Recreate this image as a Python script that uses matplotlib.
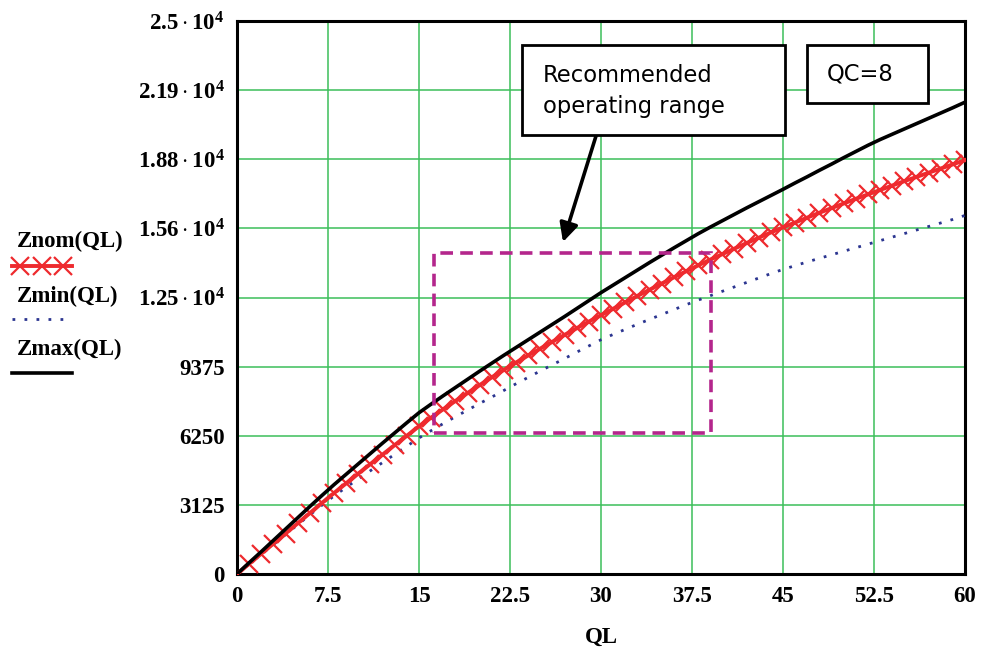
import matplotlib
matplotlib.use("Agg")
import matplotlib.pyplot as plt
from matplotlib.patches import Rectangle
from matplotlib.lines import Line2D

# ---------------- data ----------------
QL = list(range(0, 61))
Znom = [0, 460, 920, 1370, 1830, 2290, 2750, 3210, 3660, 4100,
        4540, 4970, 5400, 5830, 6250, 6680, 7070, 7450, 7820, 8180,
        8540, 8890, 9230, 9560, 9880, 10190, 10500, 10810, 11110, 11410,
        11700, 11990, 12280, 12570, 12850, 13130, 13410, 13680, 13950, 14210,
        14460, 14710, 14960, 15200, 15440, 15670, 15890, 16110, 16330, 16540,
        16750, 16960, 17160, 17360, 17560, 17760, 17950, 18140, 18330, 18520,
        18710]
Zmin = [0, 445, 890, 1330, 1780, 2230, 2670, 3110, 3530, 3920,
        4300, 4670, 5040, 5410, 5780, 6150, 6480, 6800, 7110, 7410,
        7710, 8000, 8300, 8600, 8890, 9180, 9460, 9740, 10030, 10310,
        10590, 10830, 11060, 11290, 11510, 11730, 11950, 12170, 12380, 12580,
        12780, 12980, 13180, 13380, 13580, 13770, 13940, 14110, 14270, 14430,
        14590, 14750, 14910, 15070, 15230, 15390, 15550, 15710, 15870, 16030,
        16210]
Zmax = [0, 510, 1010, 1520, 2030, 2540, 3050, 3550, 4040, 4510,
        4980, 5450, 5920, 6380, 6840, 7290, 7680, 8060, 8430, 8800,
        9170, 9530, 9890, 10240, 10590, 10940, 11290, 11640, 12000, 12360,
        12720, 13060, 13400, 13740, 14080, 14410, 14740, 15060, 15380, 15680,
        15970, 16260, 16550, 16830, 17110, 17390, 17680, 17960, 18250, 18530,
        18820, 19100, 19380, 19640, 19880, 20120, 20360, 20600, 20840, 21080,
        21330]

xticks = [0, 7.5, 15, 22.5, 30, 37.5, 45, 52.5, 60]
xticklabels = ["0", "7.5", "15", "22.5", "30", "37.5", "45", "52.5", "60"]
yticks = [0, 3125, 6250, 9375, 12500, 15625, 18750, 21875, 25000]
yticklabels = ["0", "3125", "6250", "9375",
               r"$1.25\cdot10^{4}$", r"$1.56\cdot10^{4}$", r"$1.88\cdot10^{4}$",
               r"$2.19\cdot10^{4}$", r"$2.5\cdot10^{4}$"]
legend_names = ["Znom(QL)", "Zmin(QL)", "Zmax(QL)"]
range_box = (16.2, 6390, 39.1, 14490)   # QL from, Z from, QL to, Z to
note_text = "Recommended\noperating range"
qc_text = "QC=8"

# ---------------- style ----------------
plt.rcParams['mathtext.fontset'] = 'custom'
plt.rcParams['mathtext.rm'] = 'Liberation Serif:bold'
plt.rcParams['mathtext.it'] = 'Liberation Serif:bold'
plt.rcParams['mathtext.bf'] = 'Liberation Serif:bold'

RED = '#ee2a2e'
BLUE = '#2b3590'
MAG = '#b4268c'
GRID = '#3cbf5a'
DOTS = (0, (1.0, 3.32))
serif = dict(family='Liberation Serif', weight='bold', size=16.5)

W, H = 984, 650
fig = plt.figure(figsize=(W / 100, H / 100), dpi=100)
L, R, B, T = 237, 965, 574, 21
ax = fig.add_axes([L / W, 1 - B / H, (R - L) / W, (B - T) / H])

ax.plot(QL, Zmin, color=BLUE, lw=2.0, ls=DOTS, zorder=3)
ax.plot(QL, Znom, color=RED, lw=2.8, marker='x', markersize=12.5,
        markeredgewidth=1.6, zorder=4)
ax.plot(QL, Zmax, color='black', lw=2.6, zorder=5)

ax.set_xlim(0, 60)
ax.set_ylim(0, 25000)
ax.set_xticks(xticks)
ax.set_xticklabels(xticklabels, fontdict=serif)
ax.set_yticks(yticks)
ax.set_yticklabels(yticklabels, fontdict=serif)
ax.tick_params(length=0, pad=9)
ax.grid(True, color=GRID, lw=1.1, zorder=0)
ax.set_axisbelow(True)
for s in ax.spines.values():
    s.set_color('black')
    s.set_linewidth(2.2)
ax.set_xlabel("QL", fontdict=serif, labelpad=14)

# recommended range rectangle
x0, y0, x1, y1 = range_box
ax.add_patch(Rectangle((x0, y0), x1 - x0, y1 - y0, fill=False, ec=MAG,
                       lw=2.6, ls=(0, (3.5, 2)), zorder=6))

# annotation boxes (positioned in figure pixels)
def px(x, y):
    return x / W, 1 - y / H

def fig_box(xa, ya, xb, yb):
    fx, fy = px(xa, yb)
    r = Rectangle((fx, fy), (xb - xa) / W, (yb - ya) / H, transform=fig.transFigure,
                  fc='white', ec='black', lw=2, zorder=10)
    fig.add_artist(r)

fig_box(522, 45, 785, 135)
fig.text(*px(543, 91), note_text, fontsize=16.3, family='DejaVu Sans',
         va='center', ha='left', linespacing=1.5, zorder=11)
fig_box(807, 45, 928, 103)
fig.text(*px(827, 74), qc_text, fontsize=16.3, family='DejaVu Sans',
         va='center', ha='left', zorder=11)

# arrow
ax.annotate('', xy=px(563, 242), xycoords='figure fraction',
            xytext=px(596, 136), textcoords='figure fraction',
            arrowprops=dict(arrowstyle='-|>', mutation_scale=28, lw=2.6,
                            color='black', shrinkA=0, shrinkB=0), zorder=9)

# legend on the left
fig.text(*px(17, 247), legend_names[0], ha='left', va='baseline', **serif)
fig.text(*px(17, 302), legend_names[1], ha='left', va='baseline', **serif)
fig.text(*px(17, 355), legend_names[2], ha='left', va='baseline', **serif)
fig.add_artist(Line2D([12 / W, 72 / W], [1 - 266 / H] * 2, color=RED, lw=2.8,
                      transform=fig.transFigure))
fig.add_artist(Line2D([20 / W, 42 / W, 63 / W], [1 - 266 / H] * 3, color=RED, lw=0,
                      marker='x', markersize=12.5, markeredgewidth=1.6,
                      transform=fig.transFigure))
fig.add_artist(Line2D([12 / W, 64 / W], [1 - 319 / H] * 2, color=BLUE, lw=2.0,
                      ls=DOTS, transform=fig.transFigure))
fig.add_artist(Line2D([12 / W, 72 / W], [1 - 373 / H] * 2, color='black', lw=2.6,
                      transform=fig.transFigure))

fig.savefig("out.png", dpi=100)
